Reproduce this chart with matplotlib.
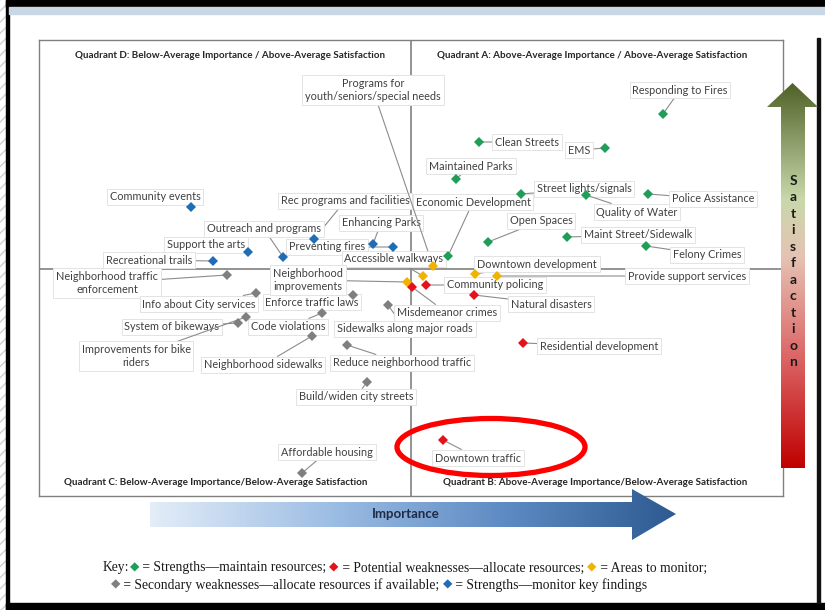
import numpy as np
import matplotlib.pyplot as plt
from matplotlib.patches import Polygon, Ellipse, Rectangle
from matplotlib.colors import LinearSegmentedColormap

# importance / satisfaction relative to the average (0 = average line)
# label_x / label_y = where the label box sits

green_names = ["Responding to Fires", "Clean Streets", "EMS", "Maintained Parks",
               "Street lights/signals", "Quality of Water", "Police Assistance",
               "Economic Development", "Open Spaces", "Maint Street/Sidewalk", "Felony Crimes"]
green_imp = [252, 68, 194, 45, 110, 175, 237, 37, 77, 156, 235]
green_sat = [155, 127, 121, 90, 75, 74, 75, 13, 27, 32, 23]
green_lx = [269, 116, 168, 60, 173, 226, 302, 62, 130, 227, 296]
green_ly = [179, 127, 119, 103, 80, 57, 70, 67, 48, 34, 14]

yellow_names = ["Programs for\nyouth/seniors/special needs", "Accessible walkways",
                "Neighborhood\nimprovements", "Downtown development", "Provide support services"]
yellow_imp = [22, 12, -4, 64, 86]
yellow_sat = [3, -7, -13, -5, -7]
yellow_lx = [-38, -17, -103, 126, 276]
yellow_ly = [179, 10, -11, 5, -7]

red_names = ["Misdemeanor crimes", "Community policing", "Natural disasters",
             "Residential development", "Downtown traffic"]
red_imp = [1, 15, 63, 112, 32]
red_sat = [-18, -16, -26, -74, -171]
red_lx = [36, 84, 140, 188, 67]
red_ly = [-44, -16, -35, -77, -189]

gray_names = ["Neighborhood traffic\nenforcement", "Info about City services", "Enforce traffic laws",
              "System of bikeways", "Improvements for bike\nriders", "Code violations",
              "Neighborhood sidewalks", "Sidewalks along major roads", "Reduce neighborhood traffic",
              "Build/widen city streets", "Affordable housing"]
gray_imp = [-184, -155, -58, -173, -165, -89, -99, -23, -64, -44, -109]
gray_sat = [-6, -24, -26, -54, -48, -44, -67, -36, -76, -113, -204]
gray_lx = [-304, -212, -99, -239, -275, -123, -148, -6, -9, -55, -84]
gray_ly = [-14, -35, -33, -58, -87, -58, -96, -60, -94, -128, -183]

blue_names = ["Community events", "Rec programs and facilities", "Outreach and programs",
              "Support the arts", "Recreational trails", "Enhancing Parks", "Preventing fires"]
blue_imp = [-220, -97, -128, -163, -198, -38, -18]
blue_sat = [62, 30, 12, 17, 8, 25, 22]
blue_lx = [-256, -66, -147, -205, -262, -30, -84]
blue_ly = [72, 68, 40, 24, 9, 46, 22]

quadrants = ["Quadrant D: Below-Average Importance / Above-Average Satisfaction",
             "Quadrant A: Above-Average Importance / Above-Average Satisfaction",
             "Quadrant C: Below-Average Importance/Below-Average Satisfaction",
             "Quadrant B: Above-Average Importance/Below-Average Satisfaction"]

GREEN, RED, YELLOW, GRAY, BLUE = '#1f9e57', '#e3121b', '#f2b200', '#7f7f7f', '#1f6db3'

key_line1 = [("Key:", None), ("◆", GREEN), (" = Strengths—maintain resources; ", None),
             ("◆", RED), (" = Potential weaknesses—allocate resources; ", None),
             ("◆", YELLOW), (" = Areas to monitor;", None)]
key_line2 = [("◆", GRAY), (" = Secondary weaknesses—allocate resources if available; ", None),
             ("◆", BLUE), (" = Strengths—monitor key findings", None)]

fig = plt.figure(figsize=(8.25, 6.1), dpi=100)

# page background (pixel coords)
page = fig.add_axes([0, 0, 1, 1], zorder=0)
page.set_xlim(0, 825)
page.set_ylim(610, 0)
page.axis('off')
page.add_patch(Rectangle((0, 0), 6, 610, fc='white', ec='#cfcfcf', hatch='///', lw=0))
page.add_patch(Rectangle((6, 0), 2.5, 610, color='black'))
page.add_patch(Rectangle((6, 0), 819, 7, color='black'))
page.add_patch(Rectangle((8.5, 7), 817, 7, color='#c9d6e3'))
page.add_patch(Rectangle((6, 603), 819, 7, color='black'))
page.add_patch(Rectangle((817, 38), 3, 565, color='#111111'))

# quadrant chart
ax = fig.add_axes([39 / 825, 114 / 610, 744 / 825, 456 / 610], zorder=1)
ax.set_xlim(-372, 372)
ax.set_ylim(-227, 229)
ax.set_xticks([])
ax.set_yticks([])
for s in ax.spines.values():
    s.set_color('#808080')
    s.set_linewidth(1)
ax.axhline(0, color='#808080', lw=1.2, zorder=1)
ax.axvline(0, color='#808080', lw=1.2, zorder=1)

qpos = [(0.257, 0.965), (0.743, 0.965), (0.237, 0.029), (0.747, 0.029)]
for q, (qx, qy) in zip(quadrants, qpos):
    ax.text(qx, qy, q, transform=ax.transAxes, ha='center', va='center',
            fontsize=7.1, fontweight='bold', family='Lato', color='#262626')


def draw_group(names, imp, sat, lx, ly, color):
    for n, x, y, tx, ty in zip(names, imp, sat, lx, ly):
        ax.annotate(n, xy=(x, y), xytext=(tx, ty), ha='center', va='center',
                    fontsize=7.8, family='Lato', color='#404040', linespacing=1.2,
                    bbox=dict(boxstyle='square,pad=0.25', fc='white', ec='#e3e3e3', lw=0.7),
                    arrowprops=dict(arrowstyle='-', color='#8c8c8c', lw=0.8, shrinkA=0, shrinkB=2),
                    zorder=3)
    ax.scatter(imp, sat, marker='D', s=26, color=color, edgecolors='none', zorder=5)


draw_group(gray_names, gray_imp, gray_sat, gray_lx, gray_ly, GRAY)
draw_group(blue_names, blue_imp, blue_sat, blue_lx, blue_ly, BLUE)
draw_group(green_names, green_imp, green_sat, green_lx, green_ly, GREEN)
draw_group(yellow_names, yellow_imp, yellow_sat, yellow_lx, yellow_ly, YELLOW)
draw_group(red_names, red_imp, red_sat, red_lx, red_ly, RED)

# overlay: arrows, key, highlight
over = fig.add_axes([0, 0, 1, 1], zorder=2)
over.patch.set_alpha(0)
over.set_xlim(0, 825)
over.set_ylim(610, 0)
over.axis('off')

sat_cmap = LinearSegmentedColormap.from_list('sat', [(0, '#c00000'), (0.3, '#dd6a6a'),
                                                     (0.55, '#e6c3b4'), (0.7, '#c9d8aa'),
                                                     (1, '#4f6228')])
sat_poly = Polygon([(781, 468), (805, 468), (805, 107), (818, 107), (792.5, 83),
                    (767, 107), (781, 107)], closed=True, fc='none', ec='none')
over.add_patch(sat_poly)
im = over.imshow(np.linspace(1, 0, 256)[:, None], extent=[767, 818, 468, 83],
                 cmap=sat_cmap, aspect='auto', zorder=2)
im.set_clip_path(sat_poly)
for i, ch in enumerate("Satisfaction"):
    over.text(793, 181 + i * 16.45, ch, ha='center', va='center', fontsize=10,
              fontweight='bold', family='Lato', color='#1a1a1a', zorder=3)

imp_cmap = LinearSegmentedColormap.from_list('imp', ['#e4edf8', '#9fbfe4', '#5f8cc4', '#2d5a90'])
imp_poly = Polygon([(150, 502), (632, 502), (632, 489), (676, 514), (632, 540),
                    (632, 527), (150, 527)], closed=True, fc='none', ec='none')
over.add_patch(imp_poly)
im2 = over.imshow(np.linspace(0, 1, 256)[None, :], extent=[150, 676, 540, 489],
                  cmap=imp_cmap, aspect='auto', zorder=2)
im2.set_clip_path(imp_poly)
over.text(406, 514, "Importance", ha='center', va='center', fontsize=9.5,
          fontweight='bold', family='Lato', color='#1f2b45', zorder=3)

over.add_patch(Ellipse((491, 447), 188, 57, fill=False, ec='#ff0000', lw=3.8, zorder=4))
over.set_xlim(0, 825)
over.set_ylim(610, 0)

# key, laid out piece by piece
renderer = fig.canvas.get_renderer()


def key_line(pieces, x, y):
    for txt, col in pieces:
        if col is None:
            t = over.text(x, y, txt, fontsize=9.85, family='Liberation Serif', color='#1a1a1a',
                          va='center', ha='left')
        else:
            t = over.text(x, y - 1, txt, fontsize=8.8, family='DejaVu Sans', color=col,
                          va='center', ha='left')
        x += t.get_window_extent(renderer).width * 825 / fig.bbox.width


key_line(key_line1, 103, 568)
key_line(key_line2, 111, 585)

fig.savefig('out.png', dpi=100)
